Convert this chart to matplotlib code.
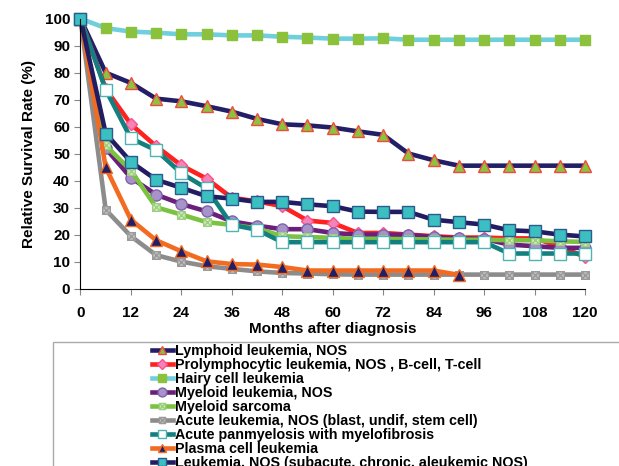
import numpy as np
import matplotlib.pyplot as plt
from matplotlib.patches import Rectangle
from matplotlib.path import Path

plt.rcParams["font.family"] = ["Liberation Sans", "DejaVu Sans"]
plt.rcParams["font.weight"] = "bold"

nan = np.nan
months = list(range(0, 121, 6))

lymphoid = [100, 80, 76.2, 70.4, 69.4, 67.6, 65.6, 62.9, 60.9, 60.5, 59.7, 58.3,
            57.0, 50.1, 47.6, 45.6, 45.6, 45.6, 45.6, 45.6, 45.6]
prolymphocytic = [100, 74, 60.9, 52.8, 45.7, 40.8, 33.7, 32.4, 30.6, 25.3, 24.4, 20.7,
                  20.7, 20.1, 19.5, 19.0, 19.0, 18.7, 18.7, 15.8, 11.8]
hairy_cell = [100, 96.5, 95.2, 94.8, 94.2, 94.2, 93.8, 93.8, 93.3, 93.0, 92.6, 92.6,
              92.7, 92.2, 92.2, 92.2, 92.2, 92.2, 92.2, 92.2, 92.2]
myeloid_nos = [100, 52, 41.1, 34.9, 31.4, 28.7, 25.0, 23.4, 22.1, 22.1, 20.7, 20.1,
               20.1, 20.0, 19.2, 18.7, 18.5, 16.4, 15.8, 15.2, 15.2]
myeloid_sarcoma = [100, 53.1, 43.8, 30.2, 27.5, 24.7, 23.7, 22.4, 19.5, 19.2, 18.9, 18.5,
                   18.5, 18.4, 18.3, 18.2, 18.2, 18.0, 18.0, 17.6, 17.4]
acute_nos = [100, 29.3, 19.5, 12.5, 10.1, 8.4, 7.4, 6.5, 5.9, 5.7, 5.4, 5.3,
             5.3, 5.3, 5.3, 5.3, 5.3, 5.3, 5.3, 5.3, 5.3]
panmyelosis = [100, 73.7, 55.7, 51.3, 42.8, 37.2, 23.7, 21.9, 17.3, 17.3, 17.3, 17.3,
               17.3, 17.3, 17.3, 17.3, 17.3, 13.1, 13.1, 13.1, 13.1]
plasma_cell = [100, 45.0, 25.6, 18.0, 13.9, 10.2, 9.2, 9.0, 8.1, 6.8, 6.8, 6.8,
               6.8, 6.8, 6.8, 5.2, nan, nan, nan, nan, nan]
leukemia_nos = [100, 57.5, 47.0, 40.4, 37.4, 34.3, 33.4, 32.2, 32.2, 31.3, 30.6, 28.6,
                28.5, 28.5, 25.6, 24.7, 23.8, 21.7, 21.3, 20.1, 19.4]

labels = [
    "Lymphoid leukemia, NOS",
    "Prolymphocytic leukemia, NOS , B-cell, T-cell",
    "Hairy cell leukemia",
    "Myeloid leukemia, NOS",
    "Myeloid sarcoma",
    "Acute leukemia, NOS (blast, undif, stem cell)",
    "Acute panmyelosis with myelofibrosis",
    "Plasma cell leukemia",
    "Leukemia, NOS (subacute, chronic, aleukemic NOS)",
]
series = [lymphoid, prolymphocytic, hairy_cell, myeloid_nos, myeloid_sarcoma,
          acute_nos, panmyelosis, plasma_cell, leukemia_nos]

# square with a cross inside (boxed x marker)
boxx = Path(
    [(-1, -1), (1, -1), (1, 1), (-1, 1), (-1, -1), (-1, -1), (1, 1), (-1, 1), (1, -1)],
    [Path.MOVETO, Path.LINETO, Path.LINETO, Path.LINETO, Path.CLOSEPOLY,
     Path.MOVETO, Path.LINETO, Path.MOVETO, Path.LINETO],
)

# line color, marker, marker face, marker edge, marker size
styles = [
    ("#231f66", "^", "#8dc13f", "#f04a3c", 8),
    ("#ff2020", "D", "#f285b8", "#ff4f8a", 6),
    ("#6fcfdc", "s", "#8cc13c", "#8cc13c", 7.5),
    ("#6a1f78", "o", "#a793c8", "#7d62b0", 8),
    ("#7cc242", boxx, "#d6efc6", "#9ccf7e", 5.5),
    ("#8c8c8c", boxx, "#c4c4c4", "#9a9a9a", 5.5),
    ("#137f7f", "s", "white", "#4db3b3", 8),
    ("#f26b21", "^", "#231f66", "#f26b21", 8),
    ("#221d63", "s", "#3bbfc1", "#2b5c8c", 8),
]

fig = plt.figure(figsize=(6.19, 4.66), dpi=100)
ax = fig.add_axes([0.130, 0.380, 0.815, 0.580])

handles = []
for vals, lab, (lc, mk, mf, me, ms) in zip(series, labels, styles):
    (h,) = ax.plot(
        months, vals, color=lc, lw=3.3, marker=mk, markersize=ms,
        markerfacecolor=mf, markeredgecolor=me, markeredgewidth=1.0,
        label=lab, clip_on=False,
    )
    handles.append(h)

ax.set_xlim(0, 120)
ax.set_ylim(0, 100)
ax.set_xticks(range(0, 121, 12))
ax.set_yticks(range(0, 101, 10))
ax.spines["top"].set_visible(False)
ax.spines["right"].set_visible(False)
ax.tick_params(axis="both", labelsize=11, length=4, color="#888888")
ax.tick_params(axis="x", pad=8)
for t in ax.get_xticklabels() + ax.get_yticklabels():
    t.set_fontweight("bold")
ax.set_xlabel("Months after diagnosis", fontsize=11, fontweight="bold", labelpad=2)
ax.set_ylabel("Relative Survival Rate (%)", fontsize=11, fontweight="bold", labelpad=6)

# legend box running off the bottom/right of the figure
fig.patches.append(Rectangle((0.086, -0.05), 1.0, 0.316, transform=fig.transFigure,
                             fill=False, edgecolor="#aaaaaa", lw=1.0))
leg = fig.legend(handles=handles, loc="upper left", bbox_to_anchor=(0.245, 0.262),
                 frameon=False, fontsize=10.3, labelspacing=0.0, handlelength=1.5,
                 handletextpad=0.1, borderaxespad=0, borderpad=0, markerscale=0.8)
for t in leg.get_texts():
    t.set_fontweight("bold")

fig.savefig("out.png", dpi=100)
